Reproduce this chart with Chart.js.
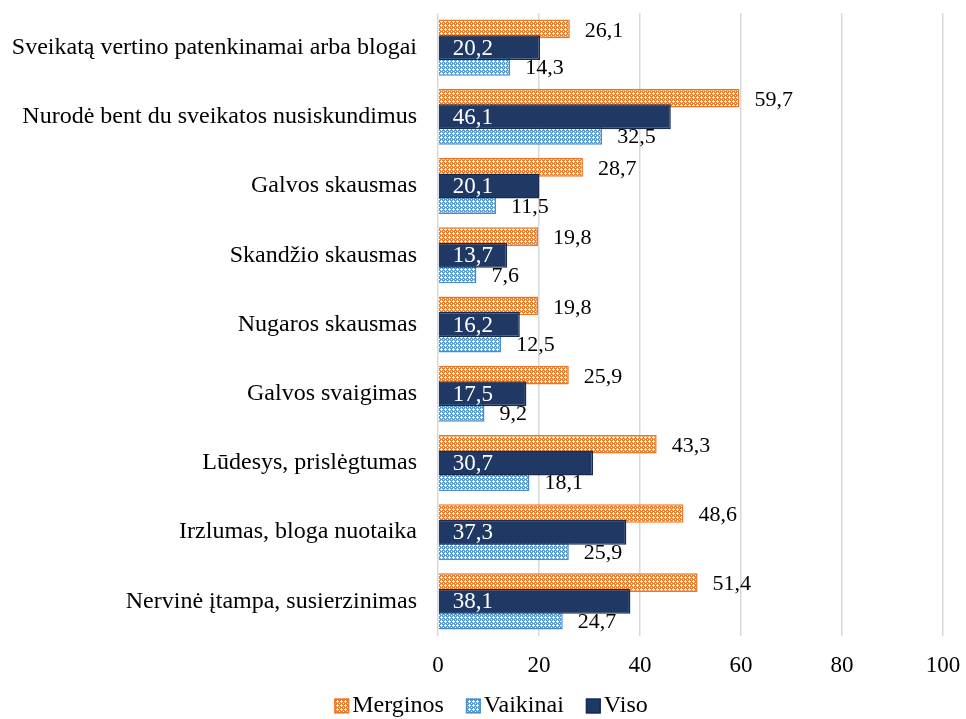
<!DOCTYPE html>
<html>
<head>
<meta charset="utf-8">
<script src="https://cdn.jsdelivr.net/npm/chart.js@4/dist/chart.umd.min.js"></script>
<style>
    body { margin: 0; background: #fff; }
    #wrap { width: 966px; height: 719px; }
</style>
</head>
<body>
<div id="wrap"><canvas id="chart" width="966" height="719"></canvas></div>
<script>
const categories = ['Sveikatą vertino patenkinamai arba blogai', 'Nurodė bent du sveikatos nusiskundimus',
    'Galvos skausmas', 'Skandžio skausmas', 'Nugaros skausmas', 'Galvos svaigimas',
    'Lūdesys, prislėgtumas', 'Irzlumas, bloga nuotaika', 'Nervinė įtampa, susierzinimas']
const merginos = [26.1, 59.7, 28.7, 19.8, 19.8, 25.9, 43.3, 48.6, 51.4]
const vaikinai = [14.3, 32.5, 11.5, 7.6, 12.5, 9.2, 18.1, 25.9, 24.7]
const viso = [20.2, 46.1, 20.1, 13.7, 16.2, 17.5, 30.7, 37.3, 38.1]
const xTicks = [0, 20, 40, 60, 80, 100]

const FONT = "'Liberation Serif', 'Times New Roman', serif"

// small dotted tile like the excel pattern fill
const makePattern = (color) => {
    const c = document.createElement('canvas')
    c.width = 4
    c.height = 4
    const cx = c.getContext('2d')
    cx.fillStyle = color
    cx.fillRect(0, 0, 4, 4)
    cx.fillStyle = '#ffffff'
    const dots = [[1, 0], [0, 1], [1, 1], [2, 1], [1, 2], [3, 3]]
    for (let d of dots) cx.fillRect(d[0], d[1], 1, 1)
    return cx.createPattern(c, 'repeat')
}

const fmt = v => v.toFixed(1).replace('.', ',')

// value labels: outside end for Merginos/Vaikinai, inside base for Viso
const labelPlugin = {
    id: 'valueLabels',
    afterDatasetsDraw(chart) {
        const ctx = chart.ctx
        ctx.save()
        ctx.textBaseline = 'middle'
        ctx.textAlign = 'left'
        chart.data.datasets.forEach((ds, i) => {
            const meta = chart.getDatasetMeta(i)
            meta.data.forEach((bar, j) => {
                const txt = fmt(ds.data[j])
                if (ds.label === 'Viso') {
                    ctx.font = `23px ${FONT}`
                    ctx.fillStyle = '#ffffff'
                    ctx.fillText(txt, bar.base + 14, bar.y + 1)
                } else {
                    ctx.font = `22px ${FONT}`
                    ctx.fillStyle = '#000000'
                    ctx.fillText(txt, bar.x + 15, bar.y + 2)
                }
            })
        })
        ctx.restore()
    }
}

// legend drawn by hand so the box/text spacing matches excel
const legendPlugin = {
    id: 'smallLegend',
    afterDraw(chart) {
        const ctx = chart.ctx
        ctx.save()
        ctx.font = `24px ${FONT}`
        ctx.textBaseline = 'middle'
        ctx.textAlign = 'left'
        const box = 15, gap = 3, spacing = 22
        const items = chart.data.datasets
        let total = 0
        items.forEach((ds, i) => {
            total += box + gap + ctx.measureText(ds.label).width
            if (i < items.length - 1) total += spacing
        })
        let x = chart.width / 2 + 8 - total / 2
        const y = 706
        items.forEach(ds => {
            ctx.fillStyle = ds.backgroundColor
            ctx.fillRect(x, y - box / 2, box, box)
            ctx.strokeStyle = ds.borderColor
            ctx.lineWidth = 1.5
            ctx.strokeRect(x + 0.75, y - box / 2 + 0.75, box - 1.5, box - 1.5)
            x += box + gap
            ctx.fillStyle = '#000'
            ctx.fillText(ds.label, x, y)
            x += ctx.measureText(ds.label).width + spacing
        })
        ctx.restore()
    }
}

const ctx = document.getElementById('chart').getContext('2d')
new Chart(ctx, {
    type: 'bar',
    data: {
        labels: categories,
        datasets: [
            {
                label: 'Merginos',
                data: merginos,
                order: 1,
                backgroundColor: makePattern('#ED7D31'),
                borderColor: '#E8772C',
                borderWidth: 1.5,
                categoryPercentage: 1.08,
                barPercentage: 0.5
            },
            {
                label: 'Vaikinai',
                data: vaikinai,
                order: 1,
                backgroundColor: makePattern('#5B9BD5'),
                borderColor: '#4A8CCB',
                borderWidth: 1.5,
                categoryPercentage: 1.08,
                barPercentage: 0.5
            },
            {
                label: 'Viso',
                data: viso,
                order: 0,
                grouped: false,
                backgroundColor: '#203864',
                borderColor: '#182c52',
                borderWidth: 1.5,
                categoryPercentage: 1,
                barPercentage: 0.36
            }
        ]
    },
    options: {
        indexAxis: 'y',
        responsive: false,
        animation: false,
        layout: { padding: { left: 0, right: 23, top: 13, bottom: 24 } },
        scales: {
            x: {
                min: 0,
                max: 100,
                afterBuildTicks: s => { s.ticks = xTicks.map(v => ({ value: v })) },
                afterFit: s => { s.paddingLeft = 0; s.paddingRight = 0 },
                grid: { color: '#d9d9d9', lineWidth: 1.5, drawTicks: false },
                border: { display: false },
                ticks: { color: '#000', font: { family: FONT, size: 23, lineHeight: 1 }, padding: 18 }
            },
            y: {
                grid: { display: false },
                border: { display: false },
                afterFit: s => { s.width = 438; s.paddingTop = 0; s.paddingBottom = 0 },
                ticks: { color: '#000', font: { family: FONT, size: 24 }, padding: 13, autoSkip: false }
            }
        },
        plugins: {
            legend: { display: false },
            tooltip: { enabled: false }
        }
    },
    plugins: [labelPlugin, legendPlugin]
})
</script>
</body>
</html>
